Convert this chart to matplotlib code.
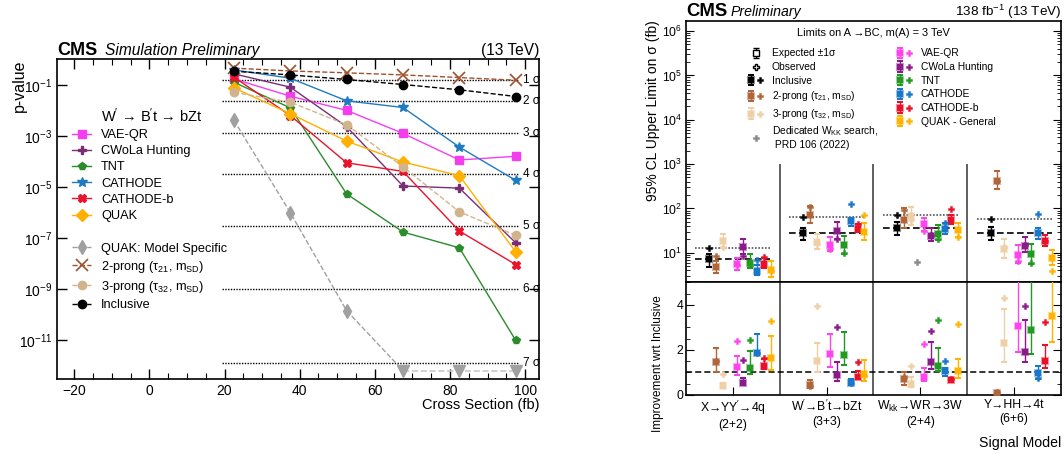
import numpy as np
import matplotlib
matplotlib.use("Agg")
import matplotlib.pyplot as plt
from matplotlib.lines import Line2D
from matplotlib.legend_handler import HandlerTuple
from matplotlib.ticker import FixedLocator, MultipleLocator, LogLocator, NullFormatter
from matplotlib.colors import to_rgba

plt.rcParams['font.family'] = ['Liberation Sans', 'DejaVu Sans']
plt.rcParams['mathtext.fontset'] = 'custom'
plt.rcParams['mathtext.rm'] = 'Liberation Sans'
plt.rcParams['mathtext.it'] = 'Liberation Sans:italic'
plt.rcParams['mathtext.bf'] = 'Liberation Sans:bold'
plt.rcParams['mathtext.sf'] = 'Liberation Sans'

# ---------------- Left panel data (p-value vs cross section) ----------------
xsec = [22.5, 37.5, 52.5, 67.5, 82.5, 97.5]
p_vaeqr = [1.7e-1, 3.6e-2, 1.0e-2, 1.26e-3, 1.15e-4, 1.6e-4]
p_cwola = [2.7e-1, 8.1e-2, 2.3e-3, 1.1e-5, 9.1e-6, 6.6e-8]
p_tnt = [1.26e-1, 1.26e-2, 5.4e-6, 1.74e-7, 4.2e-8, 1.0e-11]
p_cathode = [3.85e-1, 1.82e-1, 2.37e-2, 1.3e-2, 3.67e-4, 1.83e-5]
p_cathodeb = [2.0e-1, 6.3e-3, 8.9e-5, 4.1e-5, 1.9e-7, 9.3e-9]
p_quak = [7.6e-2, 7.4e-3, 6.3e-4, 9.5e-5, 2.8e-5, 2.9e-8]
xsec_quak_ms = [22.5, 37.5, 52.5]
p_quak_ms = [4.1e-3, 1.0e-6, 1.45e-10]
xsec_quak_ms_lim = [67.5, 82.5, 97.5]
p_quak_ms_lim = [6.6e-13, 6.6e-13, 6.6e-13]
p_2prong = [4.5e-1, 3.5e-1, 2.95e-1, 2.45e-1, 1.93e-1, 1.52e-1]
p_3prong = [5.1e-2, 2.1e-2, 2.75e-3, 6.2e-5, 1.07e-6, 1.3e-7]
p_incl = [3.4e-1, 2.45e-1, 1.62e-1, 1.03e-1, 6.4e-2, 3.5e-2]
sigma_labels = ['1 σ', '2 σ', '3 σ', '4 σ', '5 σ', '6 σ', '7 σ']
sigma_pvals = [1.587e-1, 2.275e-2, 1.35e-3, 3.17e-5, 2.87e-7, 9.87e-10, 1.28e-12]

# ---------------- Right panel data (limits) ----------------
signal_models = ["X→YY$^{\\prime}$→4q\n(2+2)", "W$^{\\prime}$→B$^{\\prime}$t→bZt\n(3+3)",
                 "W$_{\\mathrm{kk}}$→WR→3W\n(2+4)", "Y→HH→4t\n(6+6)"]

lim_incl_exp = [7.1, 27.3, 35.4, 27.3]
lim_incl_lo = [4.9, 19.5, 25.0, 19.5]
lim_incl_hi = [9.3, 37.0, 50.0, 38.5]
lim_incl_obs = [13.0, 63.0, 71.0, 59.4]

lim_2p_exp = [4.9, 73.0, 56.0, 420.0]
lim_2p_lo = [3.5, 48.0, 36.0, 270.0]
lim_2p_hi = [6.5, 115.0, 100.0, 700.0]
lim_2p_obs = [8.7, 110.0, 91.0, 420.0]

lim_3p_exp = [18.3, 17.4, 66.0, 12.5]
lim_3p_lo = [13.0, 12.5, 42.0, 7.5]
lim_3p_hi = [26.0, 27.0, 110.0, 20.0]
lim_3p_obs = [13.6, 16.0, 55.0, 13.8]

lim_wkk_group = [2]
lim_wkk_obs = [6.3]

lim_vae_exp = [5.7, 15.4, 44.0, 8.8]
lim_vae_lo = [4.0, 11.0, 31.0, 6.0]
lim_vae_hi = [7.8, 23.0, 62.0, 15.0]
lim_vae_obs = [5.4, 11.9, 31.5, 6.6]

lim_cwola_exp = [13.6, 31.0, 24.0, 14.4]
lim_cwola_lo = [9.2, 20.0, 18.5, 10.5]
lim_cwola_hi = [20.0, 50.0, 37.0, 23.0]
lim_cwola_obs = [8.4, 21.0, 25.0, 15.0]

lim_tnt_exp = [5.9, 15.4, 27.0, 9.6]
lim_tnt_lo = [4.5, 9.5, 19.0, 5.5]
lim_tnt_hi = [9.5, 24.0, 42.0, 16.0]
lim_tnt_obs = [5.3, 9.7, 21.0, 5.75]

lim_cath_exp = [3.86, 51.0, 34.0, 28.0]
lim_cath_lo = [3.1, 40.0, 27.0, 20.0]
lim_cath_hi = [5.3, 62.0, 46.0, 37.0]
lim_cath_obs = [6.9, 123.0, 47.0, 77.0]

lim_cathb_exp = [5.5, 34.0, 54.0, 18.3]
lim_cathb_lo = [4.5, 30.0, 45.0, 14.0]
lim_cathb_hi = [7.5, 45.0, 70.0, 25.0]
lim_cathb_obs = [7.9, 44.0, 95.0, 18.3]

lim_quak_exp = [4.2, 29.5, 32.0, 7.8]
lim_quak_lo = [2.9, 19.0, 23.0, 5.4]
lim_quak_hi = [6.5, 48.0, 48.0, 11.5]
lim_quak_obs = [3.9, 73.0, 22.4, 3.85]

# improvement w.r.t. inclusive
imp_2p_exp = [1.45, 0.45, 0.70, 0.08]
imp_2p_lo = [1.00, 0.32, 0.45, 0.05]
imp_2p_hi = [2.07, 0.65, 1.00, 0.12]
imp_2p_obs = [1.50, 0.42, 0.78, 0.12]

imp_3p_exp = [0.40, 1.50, 0.50, 2.30]
imp_3p_lo = [0.30, 1.00, 0.35, 1.48]
imp_3p_hi = [0.55, 2.33, 0.78, 3.82]
imp_3p_obs = [0.95, 3.97, 1.30, 4.31]

imp_vae_exp = [1.25, 1.80, 0.80, 3.05]
imp_vae_lo = [0.90, 1.25, 0.60, 1.90]
imp_vae_hi = [1.75, 2.72, 1.20, 6.00]
imp_vae_obs = [2.40, 5.30, 2.25, 9.00]

imp_cwola_exp = [0.55, 0.90, 1.48, 1.93]
imp_cwola_lo = [0.45, 0.60, 1.15, 1.45]
imp_cwola_hi = [0.75, 1.45, 2.35, 3.33]
imp_cwola_obs = [1.55, 3.02, 2.85, 3.96]

imp_tnt_exp = [1.20, 1.78, 1.30, 2.87]
imp_tnt_lo = [0.95, 1.35, 1.05, 1.80]
imp_tnt_hi = [1.95, 2.78, 2.07, 6.00]
imp_tnt_obs = [2.46, 6.50, 3.33, 10.0]

imp_cath_exp = [1.87, 0.55, 1.05, 0.96]
imp_cath_lo = [1.78, 0.48, 0.85, 0.70]
imp_cath_hi = [2.70, 0.70, 1.20, 1.30]
imp_cath_obs = [1.88, 0.51, 1.52, 0.77]

imp_cathb_exp = [1.27, 0.80, 0.68, 1.51]
imp_cathb_lo = [1.15, 0.70, 0.60, 1.20]
imp_cathb_hi = [1.60, 1.05, 0.75, 2.20]
imp_cathb_obs = [1.64, 1.45, 0.73, 3.26]

imp_quak_exp = [1.66, 0.92, 1.08, 3.50]
imp_quak_lo = [1.10, 0.62, 0.75, 2.35]
imp_quak_hi = [2.62, 1.55, 1.62, 6.00]
imp_quak_obs = [3.29, 0.86, 3.17, 15.0]

# ---------------- Figure ----------------
fig = plt.figure(figsize=(10.64, 4.54), dpi=100)
ax = fig.add_axes([0.0539, 0.1652, 0.4527, 0.7042])
ax_up = fig.add_axes([0.6447, 0.3789, 0.3525, 0.5755])
ax_lo = fig.add_axes([0.6447, 0.1300, 0.3525, 0.2489])

# ===== Left panel =====
for s, pv in zip(sigma_labels, sigma_pvals):
    ax.hlines(pv, 19.4, 98.2, colors='k', linestyles=(0, (1, 1)), lw=1.0, zorder=1)
    ax.text(99.4, pv, s, fontsize=8.5, va='center', ha='left')

c_vae, c_cwola, c_tnt, c_cath, c_cathb, c_quak = '#f53df0', '#7b2d74', '#2a8c2a', '#1f7bc1', '#e8142c', '#ffb000'
c_ms, c_2p, c_3p = '#a0a0a0', '#a0522d', '#d2b48c'

h_vae, = ax.plot(xsec, p_vaeqr, '-', marker='s', color=c_vae, ms=6, lw=1.0, label='VAE-QR', zorder=5)
h_cwola, = ax.plot(xsec, p_cwola, '-', marker='P', color=c_cwola, ms=6, lw=1.0, label='CWoLa Hunting', zorder=5)
h_tnt, = ax.plot(xsec, p_tnt, '-', marker='p', color=c_tnt, ms=6, lw=1.0, label='TNT', zorder=5)
h_cath, = ax.plot(xsec, p_cathode, '-', marker='*', color=c_cath, ms=7, lw=1.0, label='CATHODE', zorder=5)
h_cathb, = ax.plot(xsec, p_cathodeb, '-', marker='X', color=c_cathb, ms=6, lw=1.0, label='CATHODE-b', zorder=5)
h_quak, = ax.plot(xsec, p_quak, '-', marker='D', color=c_quak, ms=6, lw=1.0, label='QUAK', zorder=5)
h_blank = Line2D([], [], alpha=0, label=' ')
ax.plot([xsec_quak_ms[-1], xsec_quak_ms_lim[0]], [p_quak_ms[-1], p_quak_ms_lim[0]], '--', color=c_ms, lw=1.0, zorder=4)
ax.plot(xsec_quak_ms_lim, p_quak_ms_lim, '--', color='#c8c8c8', lw=1.2, zorder=4)
ax.plot(xsec_quak_ms_lim, p_quak_ms_lim, 'v', color=c_ms, ms=8, zorder=5)
h_ms, = ax.plot(xsec_quak_ms, p_quak_ms, '--', marker='d', color=c_ms, ms=7, lw=1.0, label='QUAK: Model Specific', zorder=5)
h_2p, = ax.plot(xsec, p_2prong, '--', marker='x', color=c_2p, ms=9, mew=1.2, lw=1.0, label='2-prong (τ$_{21}$, m$_{\\mathrm{SD}}$)', zorder=5)
h_3p, = ax.plot(xsec, p_3prong, '--', marker='o', color=c_3p, ms=6, lw=1.0, label='3-prong (τ$_{32}$, m$_{\\mathrm{SD}}$)', zorder=5)
h_incl, = ax.plot(xsec, p_incl, '--', marker='o', color='k', ms=6, lw=1.0, label='Inclusive', zorder=6)

ax.set_yscale('log')
ax.set_xlim(-24.5, 103.7)
ax.set_ylim(10**-12.51, 10**0.0)
ax.xaxis.set_major_locator(MultipleLocator(20))
ax.xaxis.set_minor_locator(MultipleLocator(5))
ax.yaxis.set_major_locator(FixedLocator([1e-1, 1e-3, 1e-5, 1e-7, 1e-9, 1e-11]))
ax.yaxis.set_minor_locator(FixedLocator([]))
ax.yaxis.set_minor_formatter(NullFormatter())
ax.tick_params(which='both', direction='in', top=True, right=True, labelsize=10)
ax.tick_params(which='major', length=7, width=1)
ax.tick_params(which='minor', length=4, width=0.8)
for sp in ax.spines.values():
    sp.set_linewidth(1.2)
ax.set_ylabel('p-value', fontsize=11.5, loc='top')
ax.yaxis.set_label_coords(-0.063, 1.0)
ax.set_xlabel('Cross Section (fb)', fontsize=10.5, loc='right')
ax.xaxis.set_label_coords(1.0, -0.059)
ax.text(0.0, 1.0135, 'CMS', transform=ax.transAxes, fontsize=13, fontweight='bold', va='baseline', ha='left')
ax.text(0.099, 1.0135, 'Simulation Preliminary', transform=ax.transAxes, fontsize=11.2, style='italic', va='baseline', ha='left')
ax.text(1.0, 1.0135, '(13 TeV)', transform=ax.transAxes, fontsize=11.2, va='baseline', ha='right')
ax.text(0.09, 0.823, "W$^{\\prime}$ → B$^{\\prime}$t → bZt", transform=ax.transAxes, fontsize=10.5, va='center', ha='left')
leg = ax.legend(handles=[h_vae, h_cwola, h_tnt, h_cath, h_cathb, h_quak, h_blank, h_ms, h_2p, h_3p, h_incl],
                loc='upper left', bbox_to_anchor=(0.0305, 0.782), frameon=False, fontsize=9.2,
                handlelength=1.5, handletextpad=0.76, labelspacing=0.33, borderpad=0, borderaxespad=0)

# ===== Right panels =====
groups = np.arange(4)
slot_offsets = 0.25 + 0.0725 * np.arange(10)

methods = [
    # name, color, slot, lim exp, lo, hi, obs, imp exp, lo, hi, obs
    ('Inclusive', '#000000', 0, lim_incl_exp, lim_incl_lo, lim_incl_hi, lim_incl_obs, None, None, None, None),
    ('2-prong (τ$_{21}$, m$_{\\mathrm{SD}}$)', '#b0653a', 1, lim_2p_exp, lim_2p_lo, lim_2p_hi, lim_2p_obs, imp_2p_exp, imp_2p_lo, imp_2p_hi, imp_2p_obs),
    ('3-prong (τ$_{32}$, m$_{\\mathrm{SD}}$)', '#efcfa5', 2, lim_3p_exp, lim_3p_lo, lim_3p_hi, lim_3p_obs, imp_3p_exp, imp_3p_lo, imp_3p_hi, imp_3p_obs),
    ('VAE-QR', '#ff44ee', 4, lim_vae_exp, lim_vae_lo, lim_vae_hi, lim_vae_obs, imp_vae_exp, imp_vae_lo, imp_vae_hi, imp_vae_obs),
    ('CWoLa Hunting', '#8b1a8b', 5, lim_cwola_exp, lim_cwola_lo, lim_cwola_hi, lim_cwola_obs, imp_cwola_exp, imp_cwola_lo, imp_cwola_hi, imp_cwola_obs),
    ('TNT', '#229922', 6, lim_tnt_exp, lim_tnt_lo, lim_tnt_hi, lim_tnt_obs, imp_tnt_exp, imp_tnt_lo, imp_tnt_hi, imp_tnt_obs),
    ('CATHODE', '#1877c8', 7, lim_cath_exp, lim_cath_lo, lim_cath_hi, lim_cath_obs, imp_cath_exp, imp_cath_lo, imp_cath_hi, imp_cath_obs),
    ('CATHODE-b', '#e8102a', 8, lim_cathb_exp, lim_cathb_lo, lim_cathb_hi, lim_cathb_obs, imp_cathb_exp, imp_cathb_lo, imp_cathb_hi, imp_cathb_obs),
    ('QUAK - General', '#ffb400', 9, lim_quak_exp, lim_quak_lo, lim_quak_hi, lim_quak_obs, imp_quak_exp, imp_quak_lo, imp_quak_hi, imp_quak_obs),
]

ylo_up = 2.2
for g in groups:
    ax_up.hlines(lim_incl_exp[g], g + 0.1, g + 0.9, colors='k', linestyles=(0, (4, 2)), lw=1.2, zorder=2)
    ax_up.hlines(lim_incl_obs[g], g + 0.1, g + 0.9, colors='#555555', linestyles=(0, (1, 1)), lw=1.2, zorder=2)
ax_up.vlines([1, 2, 3], ylo_up, 1e3, colors='#444444', lw=1.2, zorder=1)
for xv in (1, 2, 3):
    ax_lo.axvline(xv, color='#444444', lw=1.2, zorder=1)
ax_lo.axhline(1.0, color='k', ls=(0, (4, 2)), lw=1.1, zorder=2)

ms_exp, ms_obs = 5.0, 5.0
leg_handles = {}
for (name, col, slot, le, ll, lh, lo_, ie, il, ih, io) in methods:
    xs = groups + slot_offsets[slot]
    le_a, ll_a, lh_a = np.array(le), np.array(ll), np.array(lh)
    edge = to_rgba(col, 0.45)
    eb = ax_up.errorbar(xs, le_a, yerr=[le_a - ll_a, lh_a - le_a], fmt='s', color=col, ms=ms_exp,
                        mec=edge, mew=1.5, capsize=2, elinewidth=1.0, capthick=1.0, zorder=4)
    ob, = ax_up.plot(xs, lo_, 'P', color=col, ms=ms_obs, mec=edge, mew=0.8, ls='none', zorder=5)
    leg_handles[name] = (eb, ob)
    if ie is not None:
        ie_a, il_a, ih_a = np.array(ie), np.array(il), np.array(ih)
        ax_lo.errorbar(xs, ie_a, yerr=[ie_a - il_a, ih_a - ie_a], fmt='s', color=col, ms=ms_exp,
                       mec=edge, mew=1.5, capsize=2, elinewidth=1.0, capthick=1.0, zorder=4)
        ax_lo.plot(xs, io, 'P', color=col, ms=ms_obs, mec=edge, mew=0.8, ls='none', zorder=5)

h_wkk, = ax_up.plot(np.array(lim_wkk_group) + slot_offsets[3], lim_wkk_obs, 'P', color='#888888',
                    ms=ms_obs, mec=to_rgba('#888888', 0.45), mew=0.8, ls='none', zorder=5)

ax_up.set_yscale('log')
ax_up.set_ylim(ylo_up, 10**6.235)
ax_up.set_xlim(0, 4)
ax_lo.set_xlim(0, 4)
ax_lo.set_ylim(0, 5.02)
ax_up.yaxis.set_major_locator(LogLocator(base=10, numticks=20))
ax_up.yaxis.set_minor_locator(LogLocator(base=10, subs=np.arange(2, 10), numticks=50))
ax_up.yaxis.set_minor_formatter(NullFormatter())
ax_up.set_xticks([])
ax_up.tick_params(which='both', direction='in', left=True, right=True, labelsize=8.8, pad=2.5)
ax_up.tick_params(which='major', length=6)
ax_up.tick_params(which='minor', length=3)
ax_lo.set_xticks(groups + 0.5)
ax_lo.set_xticklabels(signal_models, fontsize=8.8)
ax_lo.yaxis.set_major_locator(MultipleLocator(2))
ax_lo.yaxis.set_minor_locator(MultipleLocator(0.5))
ax_lo.tick_params(axis='y', which='both', direction='in', left=True, right=True, labelsize=8.8, pad=2.0)
ax_lo.tick_params(axis='x', which='both', direction='in', bottom=True, top=False, length=6, pad=3)
ax_lo.tick_params(which='major', length=6)
ax_lo.tick_params(axis='y', which='minor', length=3)
for a in (ax_up, ax_lo):
    for sp in a.spines.values():
        sp.set_linewidth(1.2)

ax_up.set_ylabel('95% CL Upper Limit on σ (fb)', fontsize=10, loc='top')
ax_up.yaxis.set_label_coords(-0.069, 1.0)
ax_lo.set_ylabel('Improvement wrt Inclusive', fontsize=8.5)
ax_lo.yaxis.set_label_coords(-0.058, 0.28)
ax_lo.set_xlabel('Signal Model', fontsize=10.2, loc='right')
ax_lo.xaxis.set_label_coords(1.0, -0.363)

ax_up.text(0.0, 1.018, 'CMS', transform=ax_up.transAxes, fontsize=13.3, fontweight='bold', va='baseline', ha='left')
ax_up.text(0.12, 1.018, 'Preliminary', transform=ax_up.transAxes, fontsize=10.2, style='italic', va='baseline', ha='left')
ax_up.text(1.0, 1.018, '138 fb$^{-1}$ (13 TeV)', transform=ax_up.transAxes, fontsize=9.7, va='baseline', ha='right')
ax_up.text(0.5, 0.953, 'Limits on A →BC, m(A) = 3 TeV', transform=ax_up.transAxes, fontsize=7.9, va='center', ha='center')

# legend proxies
exp_proxy = ax_up.errorbar([np.nan], [np.nan], yerr=[[np.nan], [np.nan]], fmt='s', color='k', mfc='white',
                           ms=ms_exp, capsize=2, elinewidth=1.0, capthick=1.0)
obs_proxy = Line2D([], [], marker='P', color='k', mfc='white', ms=ms_obs, ls='none')
left_handles = [exp_proxy, obs_proxy, leg_handles['Inclusive'], leg_handles[methods[1][0]], leg_handles[methods[2][0]], h_wkk]
left_labels = ['Expected ±1σ', 'Observed', 'Inclusive', methods[1][0], methods[2][0],
               'Dedicated W$_{\\mathrm{KK}}$ search,\n PRD 106 (2022)']
right_names = ['VAE-QR', 'CWoLa Hunting', 'TNT', 'CATHODE', 'CATHODE-b', 'QUAK - General']
right_handles = [leg_handles[n] for n in right_names]
common = dict(frameon=False, fontsize=7.4, handlelength=1.55, handletextpad=0.8, labelspacing=0.36,
              borderpad=0, borderaxespad=0, handler_map={tuple: HandlerTuple(ndivide=None, pad=0.2)})
legL = ax_up.legend(left_handles, left_labels, loc='upper left', bbox_to_anchor=(0.165, 0.894), **common)
ax_up.add_artist(legL)
legR = ax_up.legend(right_handles, right_names, loc='upper left', bbox_to_anchor=(0.561, 0.894), **common)

fig.savefig('out.png', dpi=100)
